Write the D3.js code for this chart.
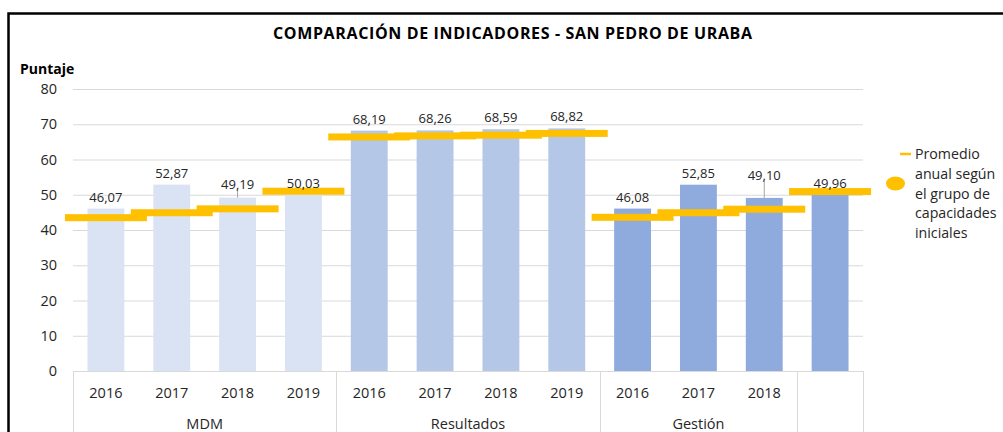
<!DOCTYPE html>
<html>
<head>
<meta charset="utf-8">
<script src="https://cdn.jsdelivr.net/npm/d3@7"></script>
<style>
  body { margin: 0; background: #fff; }
  text { font-family: "Open Sans", "Noto Sans", sans-serif; }
</style>
</head>
<body>
<svg width="1003" height="432"></svg>
<script>
// datos
var groups = ["MDM", "Resultados", "Gestión"];
var groupSpans = [[0, 3], [4, 7], [8, 10], [11, 11]];
var years = ["2016", "2017", "2018", "2019", "2016", "2017", "2018", "2019", "2016", "2017", "2018", ""];
var puntaje = [46.07, 52.87, 49.19, 50.03, 68.19, 68.26, 68.59, 68.82, 46.08, 52.85, 49.10, 49.96];
var promedio = [43.5, 44.9, 46.0, 51.0, 66.4, 66.7, 66.9, 67.4, 43.6, 44.9, 45.9, 50.9];
var barColors = ["#DAE3F3", "#DAE3F3", "#DAE3F3", "#DAE3F3",
                 "#B4C7E7", "#B4C7E7", "#B4C7E7", "#B4C7E7",
                 "#8FAADC", "#8FAADC", "#8FAADC", "#8FAADC"];
var yTicks = [0, 10, 20, 30, 40, 50, 60, 70, 80];
var legendLines = ["Promedio", "anual según", "el grupo de", "capacidades", "iniciales"];

var svg = d3.select("svg");
var pLeft = 73, pRight = 863, pTop = 89, pBottom = 371;

// marco
svg.append("rect")
  .attr("x", 8.5).attr("y", 13.5)
  .attr("width", 1100).attr("height", 500)
  .attr("fill", "none").attr("stroke", "#000").attr("stroke-width", 2.5);

svg.append("text")
  .attr("x", 273).attr("y", 39)
  .attr("font-size", 16).attr("font-weight", 700)
  .attr("fill", "#000")
  .attr("textLength", 479).attr("lengthAdjust", "spacing")
  .text("COMPARACIÓN DE INDICADORES - SAN PEDRO DE URABA");

svg.append("text")
  .attr("x", 20).attr("y", 74)
  .attr("font-size", 14).attr("font-weight", 700)
  .attr("fill", "#000")
  .text("Puntaje");

var x = d3.scaleBand()
  .domain(d3.range(years.length))
  .range([pLeft, pRight])
  .paddingInner(0.44)
  .paddingOuter(0.22);

var y = d3.scaleLinear().domain([0, 80]).range([pBottom, pTop]);

// eje y + grilla
var gy = svg.append("g")
  .attr("transform", "translate(" + pLeft + ",0)")
  .call(d3.axisLeft(y).tickValues(yTicks).tickSize(-(pRight - pLeft)).tickPadding(16));
gy.select(".domain").remove();
gy.selectAll(".tick line").attr("stroke", "#D9D9D9");
gy.selectAll(".tick text")
  .attr("font-size", 14.5).attr("fill", "#262626")
  .attr("font-family", "Open Sans, sans-serif");

// barras
svg.append("g").selectAll("rect")
  .data(puntaje)
  .enter()
  .append("rect")
  .attr("x", function(d, i) { return x(i); })
  .attr("y", function(d) { return y(d); })
  .attr("width", x.bandwidth())
  .attr("height", function(d) { return y(0) - y(d); })
  .attr("fill", function(d, i) { return barColors[i]; });

// promedio (marcadores)
var mw = x.step() * 1.245;
svg.append("g").selectAll("rect")
  .data(promedio)
  .enter()
  .append("rect")
  .attr("x", function(d, i) { return x(i) + x.bandwidth() / 2 - mw / 2; })
  .attr("y", function(d) { return y(d) - 3.5; })
  .attr("width", mw)
  .attr("height", 7)
  .attr("fill", "#FFC000");

// etiquetas de valor
var nudge = { 2: 1.5, 10: 11 };
var lab = svg.append("g");
puntaje.forEach(function(d, i) {
  var cx = x(i) + x.bandwidth() / 2;
  var by = y(d) - 7 - (nudge[i] || 0);
  if (nudge[i]) {
    lab.append("line")
      .attr("x1", cx).attr("x2", cx)
      .attr("y1", y(d)).attr("y2", by + 1)
      .attr("stroke", "#A6A6A6").attr("stroke-width", 1);
  }
  lab.append("text")
    .attr("x", cx).attr("y", by)
    .attr("text-anchor", "middle")
    .attr("font-size", 13).attr("fill", "#262626")
    .text(d3.format(".2f")(d).replace(".", ","));
});

// eje x
var ax = svg.append("g");
ax.append("line")
  .attr("x1", pLeft).attr("x2", pRight)
  .attr("y1", pBottom + 0.5).attr("y2", pBottom + 0.5)
  .attr("stroke", "#D9D9D9");
var edges = [groupSpans[0][0]].concat(groupSpans.map(function(s) { return s[1] + 1; }));
edges.forEach(function(e) {
  var xx = Math.round(pLeft + e * x.step()) + 0.5;
  ax.append("line")
    .attr("x1", xx).attr("x2", xx)
    .attr("y1", pBottom).attr("y2", 440)
    .attr("stroke", "#D9D9D9");
});
years.forEach(function(t, i) {
  ax.append("text")
    .attr("x", x(i) + x.bandwidth() / 2).attr("y", pBottom + 27)
    .attr("text-anchor", "middle")
    .attr("font-size", 14.5).attr("fill", "#262626")
    .text(t);
});
groups.forEach(function(g, k) {
  var s = groupSpans[k];
  var cx = pLeft + (s[0] + s[1] + 1) / 2 * x.step();
  ax.append("text")
    .attr("x", cx).attr("y", pBottom + 58)
    .attr("text-anchor", "middle")
    .attr("font-size", 14.5).attr("fill", "#262626")
    .text(g);
});

// leyenda
var lg = svg.append("g");
lg.append("line")
  .attr("x1", 900).attr("x2", 911)
  .attr("y1", 154).attr("y2", 154)
  .attr("stroke", "#FFC000").attr("stroke-width", 2.5);
lg.append("ellipse")
  .attr("cx", 895.5).attr("cy", 183.5)
  .attr("rx", 9.5).attr("ry", 7)
  .attr("fill", "#FFC000");
legendLines.forEach(function(t, i) {
  lg.append("text")
    .attr("x", 915).attr("y", 159 + i * 19.8)
    .attr("font-size", 14.2).attr("fill", "#262626")
    .text(t);
});
</script>
</body>
</html>
